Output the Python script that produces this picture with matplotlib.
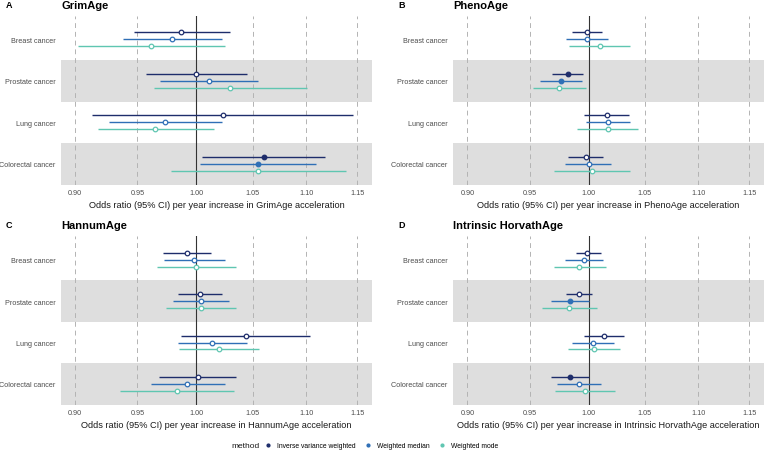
import matplotlib
matplotlib.use("Agg")
import matplotlib.pyplot as plt
from matplotlib.lines import Line2D
from matplotlib.ticker import FixedLocator, FixedFormatter, NullLocator

plt.rcParams['font.family'] = ['Liberation Sans', 'DejaVu Sans']

cancers = ["Breast cancer", "Prostate cancer", "Lung cancer", "Colorectal cancer"]
methods = ["Inverse variance weighted", "Weighted median", "Weighted mode"]
colors = ["#1e2d6b", "#2f6fb6", "#5fc6b1"]

# rows = method (IVW, WM, Wmode), columns = cancer in the order above
grim_est = [[0.987, 1.000, 1.023, 1.060], [0.979, 1.011, 0.973, 1.055], [0.961, 1.030, 0.965, 1.055]]
grim_lo = [[0.947, 0.957, 0.913, 1.005], [0.938, 0.969, 0.927, 1.003], [0.902, 0.964, 0.918, 0.978]]
grim_hi = [[1.030, 1.045, 1.146, 1.118], [1.022, 1.055, 1.022, 1.109], [1.025, 1.101, 1.015, 1.139]]
grim_sig = [[0, 0, 0, 1], [0, 0, 0, 1], [0, 0, 0, 0]]

pheno_est = [[0.999, 0.982, 1.016, 0.998], [0.999, 0.976, 1.017, 1.000], [1.010, 0.975, 1.017, 1.003]]
pheno_lo = [[0.986, 0.969, 0.996, 0.982], [0.981, 0.959, 0.998, 0.980], [0.983, 0.953, 0.990, 0.970]]
pheno_hi = [[1.012, 0.995, 1.036, 1.013], [1.017, 0.994, 1.037, 1.020], [1.037, 0.998, 1.044, 1.037]]
pheno_sig = [[0, 1, 0, 0], [0, 1, 0, 0], [0, 0, 0, 0]]

hannum_est = [[0.992, 1.003, 1.044, 1.001], [0.998, 1.004, 1.014, 0.992], [1.000, 1.004, 1.020, 0.983]]
hannum_lo = [[0.971, 0.984, 0.987, 0.968], [0.972, 0.980, 0.984, 0.961], [0.966, 0.974, 0.985, 0.936]]
hannum_hi = [[1.013, 1.022, 1.104, 1.035], [1.025, 1.029, 1.045, 1.025], [1.035, 1.035, 1.056, 1.033]]
hannum_sig = [[0, 0, 0, 0], [0, 0, 0, 0], [0, 0, 0, 0]]

horvath_est = [[0.999, 0.992, 1.014, 0.984], [0.996, 0.984, 1.004, 0.992], [0.992, 0.983, 1.005, 0.997]]
horvath_lo = [[0.989, 0.981, 0.996, 0.968], [0.980, 0.968, 0.986, 0.973], [0.970, 0.960, 0.982, 0.971]]
horvath_hi = [[1.011, 1.003, 1.031, 1.000], [1.013, 1.000, 1.022, 1.011], [1.015, 1.007, 1.028, 1.023]]
horvath_sig = [[0, 0, 0, 1], [0, 1, 0, 0], [0, 0, 0, 0]]

panels = [
    ("A", "GrimAge", grim_est, grim_lo, grim_hi, grim_sig),
    ("B", "PhenoAge", pheno_est, pheno_lo, pheno_hi, pheno_sig),
    ("C", "HannumAge", hannum_est, hannum_lo, hannum_hi, hannum_sig),
    ("D", "Intrinsic HorvathAge", horvath_est, horvath_lo, horvath_hi, horvath_sig),
]
xticks = [0.90, 0.95, 1.00, 1.05, 1.10, 1.15]

W, H = 764, 452
fig = plt.figure(figsize=(W / 100, H / 100), dpi=100)


def px_axes(l, t, r, b):
    return fig.add_axes([l / W, 1 - b / H, (r - l) / W, (b - t) / H])


boxes = [(61, 16.7, 372.3, 185.7), (453.3, 16.7, 764, 185.7),
         (61, 237, 372.3, 405.7), (453.3, 237, 764, 405.7)]
offsets = [0.167, 0, -0.167]

for (letter, name, est, lo, hi, sig), box in zip(panels, boxes):
    ax = px_axes(*box)
    ax.set_xscale("log")
    ax.set_xlim(0.889, 1.165)
    ax.set_ylim(0.5, 4.57)
    for s in ax.spines.values():
        s.set_visible(False)
    # shaded bands behind prostate and colorectal rows
    for i, c in enumerate(cancers):
        y = len(cancers) - i
        if i % 2 == 1:
            ax.axhspan(y - 0.5, y + 0.5, color="#dedede", lw=0, zorder=0)
    for t in xticks:
        ax.axvline(t, color="#b3b3b3", lw=0.7, ls=(0, (5, 4)), zorder=1)
    ax.axvline(1.0, color="#333333", lw=0.8, zorder=2)

    for m in range(len(methods)):
        for i in range(len(cancers)):
            y = len(cancers) - i + offsets[m]
            ax.plot([lo[m][i], hi[m][i]], [y, y], color=colors[m], lw=1.0,
                    solid_capstyle="butt", zorder=3)
            face = colors[m] if sig[m][i] else "white"
            ax.plot(est[m][i], y, marker="o", ms=3.3, mfc=face, mec=colors[m],
                    mew=0.9, ls="", zorder=4)

    ax.xaxis.set_major_locator(FixedLocator(xticks))
    ax.xaxis.set_major_formatter(FixedFormatter([f"{t:.2f}" for t in xticks]))
    ax.xaxis.set_minor_locator(NullLocator())
    ax.set_yticks(range(len(cancers), 0, -1))
    ax.set_yticklabels(cancers)
    ax.tick_params(length=0, labelsize=5.2, colors="#4d4d4d", pad=3)
    ax.tick_params(axis="y", pad=4)
    ax.set_xlabel(f"Odds ratio (95% CI) per year increase in {name} acceleration",
                  fontsize=6.6, color="#1a1a1a", labelpad=3)

    l, t = box[0], box[1]
    fig.text(l / W, 1 - (t - 10.5) / H, name, fontsize=8, fontweight="bold",
             ha="left", va="center")
    fig.text((l - 55) / W, 1 - (t - 11.5) / H, letter, fontsize=6.5,
             fontweight="bold", ha="left", va="center")

fig.text(231 / W, 1 - 446.5 / H, "method", fontsize=6, ha="left", va="center",
         color="#1a1a1a")
handles = [Line2D([], [], marker="o", ls="", ms=2, color=c) for c in colors]
fig.legend(handles, methods, loc="center left", bbox_to_anchor=(265 / W, 1 - 446.5 / H),
           ncol=3, frameon=False, fontsize=4.9, handlelength=1.0, handletextpad=0.8,
           columnspacing=1.3, borderpad=0, borderaxespad=0)

fig.savefig("out.png", dpi=100, facecolor="white")
